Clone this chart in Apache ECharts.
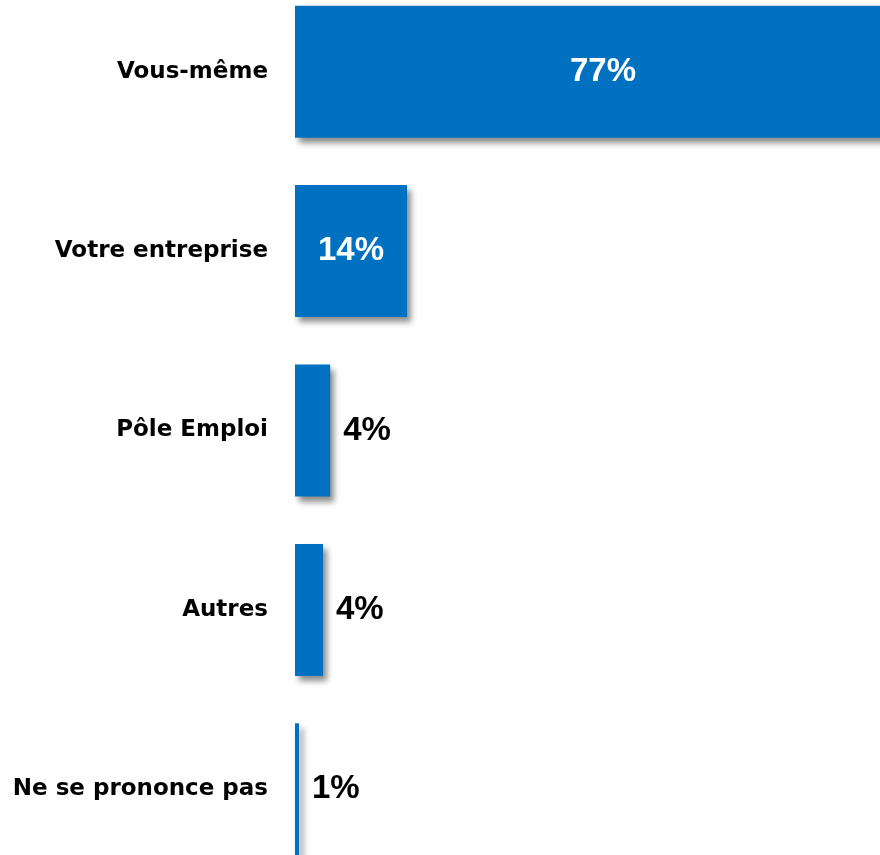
<!DOCTYPE html>
<html>
<head>
<meta charset="utf-8">
<script src="https://cdn.jsdelivr.net/npm/echarts@6/dist/echarts.min.js"></script>
<style>
  html, body { margin: 0; padding: 0; background: #ffffff; overflow: hidden; width: 880px; height: 855px; }
  #wrap { position: relative; width: 880px; height: 855px; overflow: hidden; }
  #chart { position: absolute; left: 0; top: -18px; width: 935px; height: 897px; }
</style>
</head>
<body>
<div id="wrap"><div id="chart"></div></div>
<script>
const categories = ['Vous-même', 'Votre entreprise', 'Pôle Emploi', 'Autres', 'Ne se prononce pas'];
const values = [77, 14, 4.4, 3.5, 0.5];
const insideThreshold = 10;

const chart = echarts.init(document.getElementById('chart'), null, { renderer: 'canvas' });

const pctFont = "'Liberation Sans', Arial, sans-serif";

const data = values.map(function (v) {
  const inside = v >= insideThreshold;
  return {
    value: v,
    label: inside
      ? { position: 'inside', color: '#ffffff' }
      : { position: 'right', color: '#000000', distance: 13 }
  };
});

chart.setOption({
  animation: false,
  backgroundColor: '#ffffff',
  grid: { left: 295, right: 0, top: 0, bottom: 0, containLabel: false },
  xAxis: {
    type: 'value',
    min: 0,
    max: 80,
    show: false
  },
  yAxis: {
    type: 'category',
    data: categories,
    inverse: true,
    axisLine: { show: false },
    axisTick: { show: false },
    splitLine: { show: false },
    axisLabel: {
      margin: 27,
      color: '#000000',
      fontWeight: 'bold',
      fontSize: 23,
      fontFamily: "'DejaVu Sans', Verdana, sans-serif"
    }
  },
  series: [{
    type: 'bar',
    data: data,
    barWidth: 132,
    itemStyle: {
      color: '#0070C0',
      shadowColor: 'rgba(0,0,0,0.45)',
      shadowBlur: 6,
      shadowOffsetX: 4,
      shadowOffsetY: 5
    },
    label: {
      show: true,
      fontSize: 33,
      fontWeight: 'bold',
      fontFamily: pctFont,
      formatter: function (p) { return Math.round(p.value) + '%'; }
    }
  }]
});
</script>
</body>
</html>
